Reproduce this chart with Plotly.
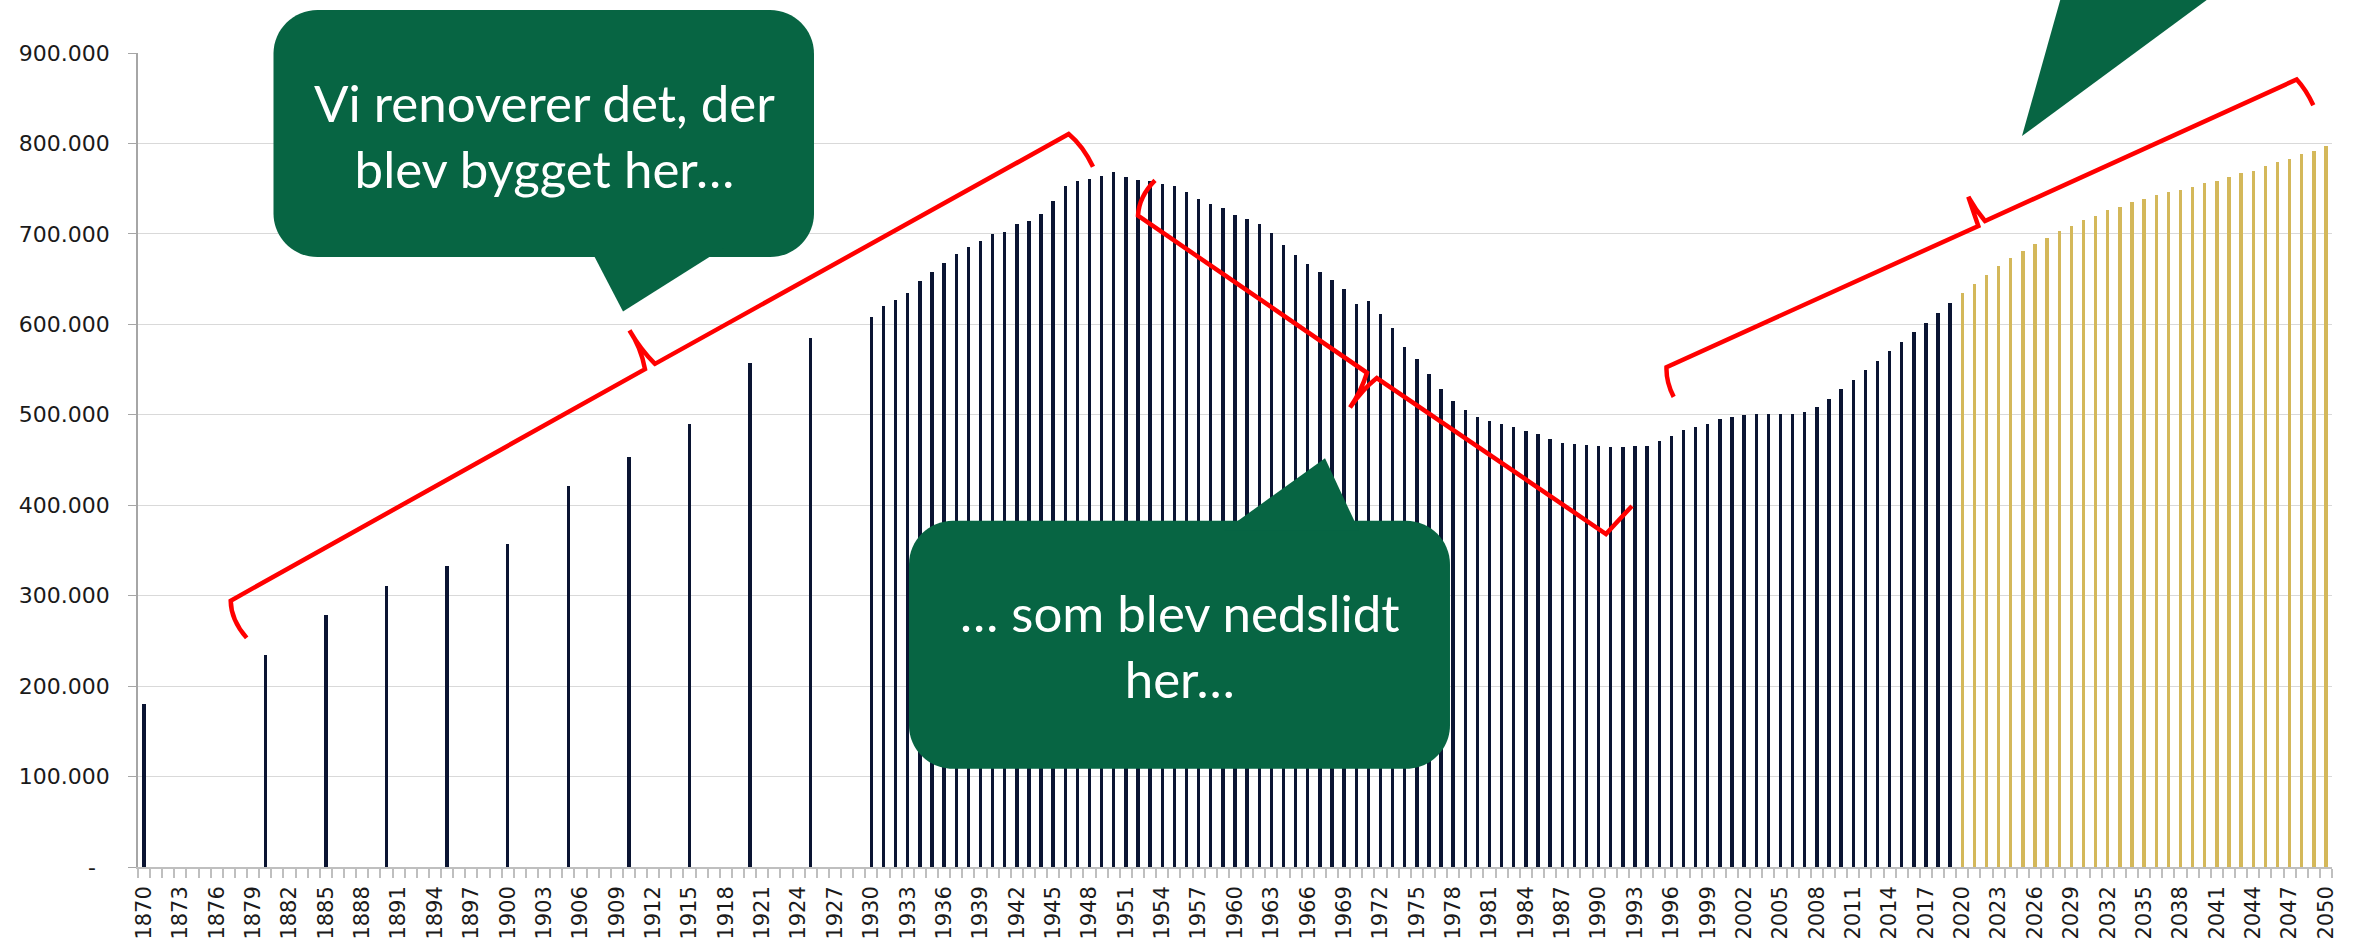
import plotly.graph_objects as go

# ---------------- data ----------------
hist_years = [1870, 1880, 1885, 1890, 1895, 1900, 1905, 1910, 1915, 1920, 1925,
              1930, 1931, 1932, 1933, 1934, 1935, 1936, 1937, 1938, 1939,
              1940, 1941, 1942, 1943, 1944, 1945, 1946, 1947, 1948, 1949,
              1950, 1951, 1952, 1953, 1954, 1955, 1956, 1957, 1958, 1959,
              1960, 1961, 1962, 1963, 1964, 1965, 1966, 1967, 1968, 1969,
              1970, 1971, 1972, 1973, 1974, 1975, 1976, 1977, 1978, 1979,
              1980, 1981, 1982, 1983, 1984, 1985, 1986, 1987, 1988, 1989,
              1990, 1991, 1992, 1993, 1994, 1995, 1996, 1997, 1998, 1999,
              2000, 2001, 2002, 2003, 2004, 2005, 2006, 2007, 2008, 2009,
              2010, 2011, 2012, 2013, 2014, 2015, 2016, 2017, 2018, 2019]
hist_values = [180000, 234000, 279000, 311000, 333000, 357000, 421000, 453000, 490000, 557000, 585000,
               608000, 620000, 627000, 635000, 648000, 658000, 668000, 678000, 686000, 692000,
               700000, 702000, 711000, 714000, 722000, 736000, 753000, 758000, 761000, 764000,
               768000, 763000, 760000, 758000, 755000, 753000, 746000, 739000, 733000, 729000,
               721000, 717000, 711000, 701000, 688000, 677000, 667000, 658000, 649000, 639000,
               623000, 626000, 611000, 596000, 575000, 562000, 545000, 529000, 515000, 505000,
               498000, 493000, 490000, 486000, 482000, 479000, 473000, 469000, 468000, 467000,
               466000, 464000, 464000, 465000, 466000, 471000, 476000, 483000, 487000, 490000,
               495000, 498000, 500000, 501000, 501000, 501000, 501000, 503000, 509000, 518000,
               528000, 539000, 549000, 559000, 570000, 580000, 591000, 602000, 613000, 624000]
proj_years = [2020, 2021, 2022, 2023, 2024, 2025, 2026, 2027, 2028, 2029,
              2030, 2031, 2032, 2033, 2034, 2035, 2036, 2037, 2038, 2039,
              2040, 2041, 2042, 2043, 2044, 2045, 2046, 2047, 2048, 2049, 2050]
proj_values = [635000, 645000, 655000, 664000, 673000, 681000, 689000, 696000, 703000, 709000,
               715000, 720000, 726000, 730000, 735000, 739000, 743000, 746000, 749000, 752000,
               756000, 759000, 763000, 767000, 770000, 775000, 779000, 783000, 788000, 792000, 797000]

y_tickvals = [0, 100000, 200000, 300000, 400000, 500000, 600000, 700000, 800000, 900000]
y_ticktext = ["-\u00a0\u00a0", "100.000", "200.000", "300.000", "400.000",
              "500.000", "600.000", "700.000", "800.000", "900.000"]

bubble1_text = "Vi renoverer det, der<br>blev bygget her…"
bubble2_text = "… som blev nedslidt<br>her…"

NAVY = "#0a1432"
GOLD = "#d4b85a"
GREEN = "#076543"
RED = "#ff0000"

# ---------------- geometry helpers (pixel -> paper) ----------------
W, H = 2356, 952
PL, PR, PT, PB = 138, 2332, 53.3, 874


def fx(x):
    return (x - PL) / (PR - PL)


def fy(y):
    return (PB - y) / (PB - PT)


def mkpath(cmds):
    out = []
    for c in cmds:
        op, pts = c[0], c[1:]
        if op == "Z":
            out.append("Z")
            continue
        coords = []
        for i in range(0, len(pts), 2):
            coords.append(f"{fx(pts[i]):.5f},{fy(pts[i + 1]):.5f}")
        out.append(op + " " + " ".join(coords))
    return " ".join(out)


def rrect(x0, y0, x1, y1, r):
    k = 0.5523 * r
    return mkpath([
        ("M", x0 + r, y0),
        ("L", x1 - r, y0),
        ("C", x1 - r + k, y0, x1, y0 + r - k, x1, y0 + r),
        ("L", x1, y1 - r),
        ("C", x1, y1 - r + k, x1 - r + k, y1, x1 - r, y1),
        ("L", x0 + r, y1),
        ("C", x0 + r - k, y1, x0, y1 - r + k, x0, y1 - r),
        ("L", x0, y0 + r),
        ("C", x0, y0 + r - k, x0 + r - k, y0, x0 + r, y0),
        ("Z",),
    ])


def tri(p1, p2, p3):
    return mkpath([("M",) + p1, ("L",) + p2, ("L",) + p3, ("Z",)])


# ---------------- figure ----------------
fig = go.Figure()
fig.add_trace(go.Bar(x=hist_years, y=hist_values, width=0.28,
                     marker=dict(color=NAVY, line=dict(width=0)), showlegend=False))
fig.add_trace(go.Bar(x=proj_years, y=proj_values, width=0.28,
                     marker=dict(color=GOLD, line=dict(width=0)), showlegend=False))

shapes = []
# speech bubbles
for p in [rrect(273.5, 10, 814, 259, 44),
          tri((590, 250), (723.5, 250), (623, 314)),
          rrect(909, 525, 1450, 775, 44),
          tri((1224, 535), (1359, 535), (1325, 462)),
          tri((2063, -10), (2220, -10), (2022, 137))]:
    shapes.append(dict(type="path", path=p, xref="paper", yref="paper",
                       fillcolor=GREEN, line=dict(width=0), layer="above"))

# red braces
brace1 = mkpath([("M", 246.7, 643), ("Q", 231, 625, 230.7, 605.5),
                 ("L", 645, 372), ("Q", 641, 350, 629.5, 333),
                 ("Q", 641, 353, 655, 366.7),
                 ("L", 1068.7, 135), ("Q", 1083, 147, 1093, 168)])
brace2 = mkpath([("M", 1155, 181.7), ("Q", 1139, 198, 1138, 217.3),
                 ("L", 1367, 375.7), ("Q", 1361, 395, 1350, 410.7),
                 ("Q", 1363, 392, 1376.8, 381),
                 ("L", 1606, 538.3), ("Q", 1619, 524, 1632, 510)])
brace3 = mkpath([("M", 1673.7, 400), ("Q", 1666, 385, 1666.5, 370),
                 ("L", 1978.3, 227.7), ("Q", 1973, 212, 1968.3, 198.3),
                 ("Q", 1976, 212, 1985, 222.7),
                 ("L", 2296.7, 80), ("Q", 2306, 90, 2313.3, 106)])
for p in [brace1, brace2, brace3]:
    shapes.append(dict(type="path", path=p, xref="paper", yref="paper",
                       line=dict(color=RED, width=4.5), layer="above"))

annotations = [
    dict(text=bubble1_text, x=fx(544), y=fy(136), xref="paper", yref="paper",
         showarrow=False, xanchor="center", yanchor="middle", align="center",
         font=dict(family="Lato", size=51, color="white")),
    dict(text=bubble2_text, x=fx(1179.5), y=fy(651), xref="paper", yref="paper",
         showarrow=False, xanchor="center", yanchor="middle", align="center",
         font=dict(family="Lato", size=51, color="white")),
]

fig.update_layout(
    width=W, height=H,
    margin=dict(l=PL, r=W - PR, t=PT, b=H - PB, pad=0),
    paper_bgcolor="white", plot_bgcolor="white",
    bargap=0, barmode="overlay",
    shapes=shapes, annotations=annotations,
    showlegend=False,
    font=dict(family="DejaVu Sans", color="#1a1a1a"),
)
fig.update_xaxes(
    type="linear", range=[1869.5, 2050.5],
    tickmode="linear", tick0=1870, dtick=3,
    ticks="outside", ticklen=9, tickcolor="rgba(0,0,0,0)",
    tickangle=-90, tickfont=dict(family="DejaVu Sans", size=21, color="#1a1a1a"),
    showgrid=False, zeroline=False,
    showline=True, linecolor="#bfbfbf", linewidth=1.5,
    minor=dict(tickmode="linear", tick0=1869.5, dtick=1, ticks="outside",
               ticklen=9, tickcolor="#bfbfbf", tickwidth=1.5, showgrid=False),
)
fig.update_yaxes(
    range=[0, 900000], tickmode="array", tickvals=y_tickvals, ticktext=y_ticktext,
    ticks="outside", ticklen=8, tickcolor="#a6a6a6", ticklabelstandoff=14,
    tickfont=dict(family="DejaVu Sans", size=22, color="#1a1a1a"),
    showgrid=True, gridcolor="#d9d9d9", gridwidth=1,
    zeroline=False, showline=True, linecolor="#a6a6a6", linewidth=1.5,
)

fig.write_html("out.html", config={"displayModeBar": False},
               post_script="document.body.style.margin='0';")
